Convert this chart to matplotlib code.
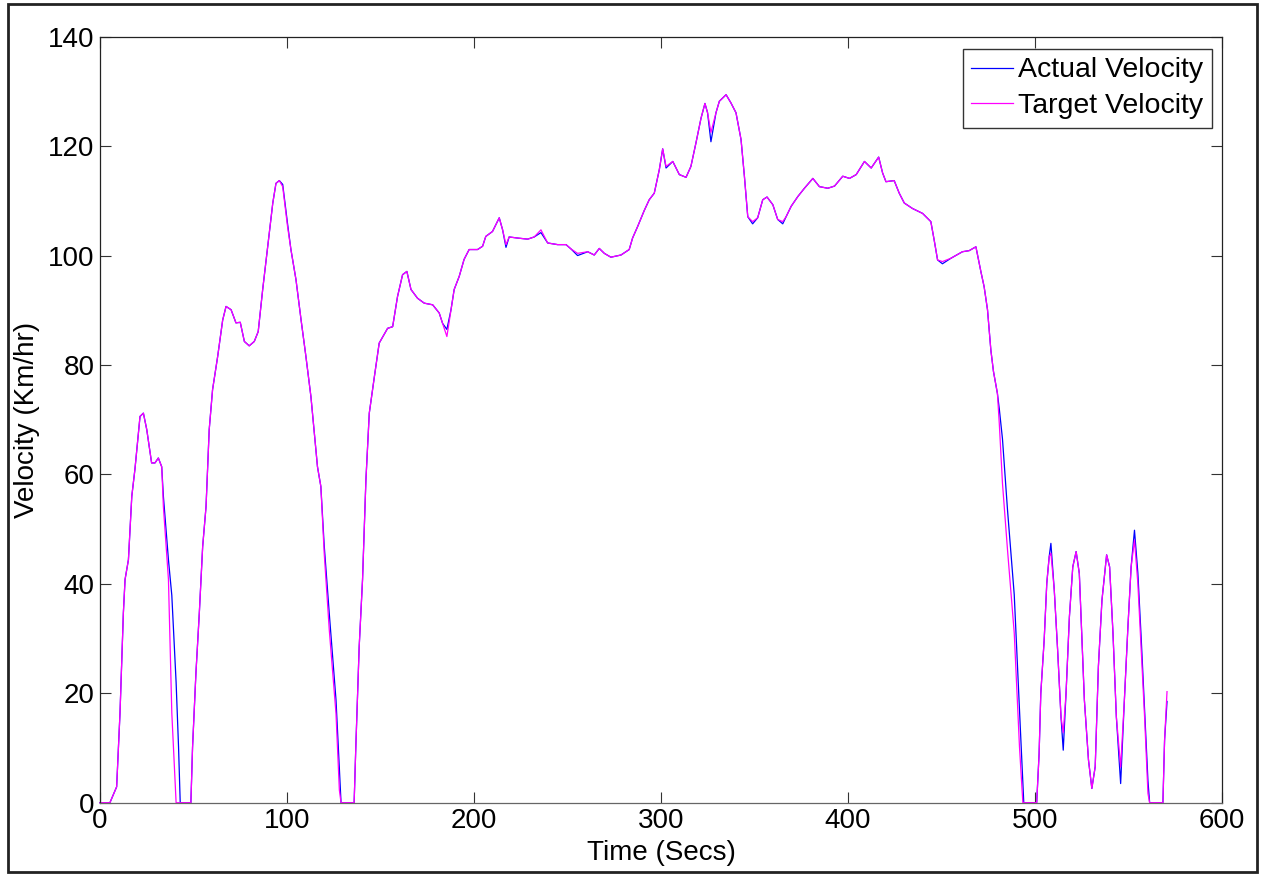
import matplotlib
matplotlib.use("Agg")
import matplotlib.pyplot as plt
from matplotlib.patches import Rectangle

plt.rcParams['font.family'] = ['Liberation Sans', 'DejaVu Sans']

# Time (s)
time_s = [0, 5.3, 8.9, 10.7, 12.5, 13.4, 15.2, 17.0, 18.7, 21.4, 23.2, 25.0, 27.6, 29.4, 31.2, 33.0,
          33.9, 36.6, 38.4, 40.7, 42.0, 42.9, 48.6, 49.5, 51.3, 53.1, 54.9, 56.7, 58.4, 60.2, 62.9,
          65.6, 67.4, 70.1, 72.7, 75.0, 77.2, 79.8, 82.5, 84.6, 87.0, 89.7, 92.4, 94.1, 95.9, 97.7,
          100.3, 102.1, 104.8, 107.5, 110.1, 112.8, 116.3, 118.1, 119.9, 122.6, 126.2, 128.0, 128.9,
          135.9, 136.8, 138.6, 140.4, 142.2, 144.0, 146.7, 149.3, 153.8, 156.5, 159.1, 161.8, 164.1,
          166.3, 169.8, 173.4, 177.9, 181.4, 183.2, 185.5, 187.7, 189.4, 192.1, 194.7, 197.4, 201.9,
          204.6, 206.3, 209.9, 213.5, 215.3, 217.1, 218.8, 223.3, 228.7, 232.2, 235.8, 239.4, 244.7,
          249.2, 251.9, 255.4, 260.8, 264.3, 267.0, 269.7, 273.2, 278.6, 283.0, 284.8, 287.5, 291.0,
          293.7, 296.4, 299.1, 300.9, 302.7, 306.3, 309.8, 313.4, 316.0, 318.7, 321.4, 323.5, 324.9,
          326.7, 329.4, 331.2, 334.8, 337.4, 340.1, 342.8, 344.6, 346.4, 349.0, 351.7, 354.4, 356.7,
          359.8, 362.4, 365.1, 366.9, 369.6, 373.2, 376.7, 381.2, 384.7, 389.2, 392.8, 397.2, 400.8,
          404.4, 408.8, 412.4, 416.4, 418.5, 420.3, 424.7, 427.4, 430.1, 434.5, 439.9, 444.3, 446.1,
          447.9, 450.5, 455.0, 461.2, 464.8, 468.4, 471.1, 472.8, 474.6, 476.4, 477.8, 479.9, 480.9,
          482.6, 485.3, 488.9, 491.7, 493.5, 494.0, 500.9, 502.2, 503.1, 504.9, 506.3, 507.6, 508.5,
          510.3, 512.1, 513.9, 515.1, 516.6, 518.4, 520.2, 522.0, 523.7, 525.0, 526.4, 528.6, 530.4,
          532.2, 533.9, 535.8, 538.3, 539.9, 541.7, 543.5, 545.8, 547.8, 549.7, 551.4, 553.2, 555.0,
          556.8, 558.6, 560.4, 561.3, 568.4, 569.3, 570.6]

target_velocity = [0, 0, 2.9, 16.4, 34.7, 40.8, 44.4, 56, 61, 70.6, 71.2, 68.2, 62.1, 62.1, 63, 61.4,
                   54.1, 40.8, 16.4, 0, 0, 0, 0, 10.2, 23.7, 34.6, 46.8, 54.1, 68.2, 75.5, 81.5,
                   88.2, 90.7, 90.1, 87.7, 87.8, 84.3, 83.5, 84.3, 86.1, 93.8, 101.7, 109.6, 113.2, 113.7, 112.6,
                   105.3, 101.1, 95.6, 88.3, 81.6, 74.2, 61.4, 57.8, 45.6, 31.6, 16.3, 2.3, 0,
                   0, 10.2, 28.5, 40.8, 59, 71.2, 77.8, 84, 86.7, 87, 92.5, 96.5, 97.1,
                   93.8, 92.2, 91.3, 91, 89.5, 87.6, 85.2, 90.1, 93.8, 96.2, 99.3, 101.1, 101.1,
                   101.7, 103.5, 104.4, 106.9, 104.7, 102, 103.4, 103.2, 103, 103.4, 104.7, 102.3, 102,
                   102, 101.2, 100.4, 100.7, 100.1, 101.3, 100.4, 99.7, 100.1, 101.1, 103.2, 105.3, 108.2,
                   110.2, 111.4, 115.7, 119.5, 116.3, 117.2, 114.8, 114.3, 116.3, 120.6, 125.1, 127.8, 126.1,
                   122.5, 126.1, 128.2, 129.4, 127.9, 126.1, 121.2, 114.5, 107.1, 106.2, 106.9, 110.2, 110.7,
                   109.3, 106.6, 106.2, 107.1, 109, 110.8, 112.3, 114.1, 112.6, 112.3, 112.7, 114.5, 114.1,
                   114.8, 117.2, 116, 118, 115.1, 113.5, 113.7, 111.4, 109.6, 108.6, 107.7, 106.2, 102.8,
                   99.2, 98.9, 99.5, 100.7, 100.9, 101.6, 97, 94.3, 90.1, 82.7, 78.8, 74.8, 69.3,
                   58.4, 46.2, 31, 10.2, 0, 0, 0, 9, 20, 29.7, 40.1, 45, 45.6,
                   38.9, 27.9, 15.7, 12.8, 20, 34, 43.1, 45.9, 41.9, 31, 18.8, 7.8, 2.6,
                   6.6, 24.9, 37, 45.3, 43.1, 31, 15.7, 6.5, 18.8, 32.2, 43.1, 48, 40.1,
                   27.9, 15.7, 1.7, 0, 0, 11.5, 20.3]

actual_velocity = [0, 0, 2.9, 16.4, 34.7, 40.8, 44.4, 56, 61, 70.6, 71.2, 68.2, 62.1, 62.1, 63, 61.4,
                   56.0, 44.4, 37.9, 22, 10.2, 0, 0, 10.2, 23.7, 34.6, 46.8, 54.1, 68.2, 75.5, 81.5,
                   88.2, 90.7, 90.1, 87.7, 87.8, 84.3, 83.5, 84.3, 86.1, 93.8, 101.7, 109.6, 113.2, 113.7, 113.0,
                   105.8, 101.1, 95.6, 88.3, 81.6, 74.2, 61.4, 57.8, 47, 34.6, 18.8, 6, 0,
                   0, 10.2, 28.5, 40.8, 59, 71.2, 77.8, 84, 86.7, 87, 92.5, 96.5, 97.1,
                   93.8, 92.2, 91.3, 91, 89.5, 87.6, 86.5, 90.1, 93.8, 96.2, 99.3, 101.1, 101.1,
                   101.7, 103.5, 104.4, 106.9, 104.7, 101.5, 103.4, 103.2, 103, 103.4, 104.2, 102.3, 102,
                   102, 101.2, 100.0, 100.7, 100.1, 101.3, 100.4, 99.7, 100.1, 101.1, 103.2, 105.3, 108.2,
                   110.2, 111.4, 115.7, 119.5, 116.0, 117.2, 114.8, 114.3, 116.3, 120.6, 125.1, 127.8, 126.1,
                   120.8, 126.1, 128.2, 129.4, 127.9, 126.1, 121.2, 114.5, 107.1, 105.8, 106.9, 110.2, 110.7,
                   109.3, 106.6, 105.8, 107.1, 109, 110.8, 112.3, 114.1, 112.6, 112.3, 112.7, 114.5, 114.1,
                   114.8, 117.2, 116, 118, 115.1, 113.5, 113.7, 111.4, 109.6, 108.6, 107.7, 106.2, 102.8,
                   99.2, 98.5, 99.5, 100.7, 100.9, 101.6, 97, 94.3, 90.1, 82.7, 78.8, 74.8, 72,
                   66.5, 53.5, 38, 17, 4, 0, 0, 9, 20, 29.7, 40.1, 45, 47.4,
                   38.9, 27.9, 15.7, 9.6, 20, 34, 43.1, 45.9, 41.9, 31, 18.8, 7.8, 2.6,
                   6.6, 24.9, 37, 45.3, 43.1, 31, 15.7, 3.5, 18.8, 32.2, 43.1, 49.8, 42,
                   30, 17, 4, 0, 0, 11.5, 18.5]

x_ticks = [0, 100, 200, 300, 400, 500, 600]
y_ticks = [0, 20, 40, 60, 80, 100, 120, 140]

fig = plt.figure(figsize=(12.63, 8.75), dpi=100)
ax = fig.add_axes([100 / 1263, 1 - 802.7 / 875, 1122 / 1263, (802.7 - 36.7) / 875])

ax.plot(time_s, actual_velocity, color='#0000ff', lw=0.9, label='Actual Velocity', clip_on=False)
ax.plot(time_s, target_velocity, color='#ff00ff', lw=0.9, label='Target Velocity', clip_on=False)

ax.set_xlim(0, 600)
ax.set_ylim(0, 140)
ax.set_xticks(x_ticks)
ax.set_yticks(y_ticks)
ax.tick_params(direction='in', length=8, width=0.8, top=True, right=True,
               labelsize=20, pad=4, colors='#333333', labelcolor='black')
for s in ax.spines.values():
    s.set_linewidth(0.9)
    s.set_color('#222222')
ax.spines['bottom'].set_color('#666666')

ax.set_xlabel('Time (Secs)', fontsize=20, labelpad=4)
ax.set_ylabel('Velocity (Km/hr)', fontsize=20, labelpad=6)

leg = ax.legend(loc='upper right', fontsize=20.5, frameon=True, fancybox=False,
                handlelength=1.45, handletextpad=0.2, labelspacing=0.35,
                borderpad=0.3, borderaxespad=0.0, bbox_to_anchor=(0.991, 0.984))
leg.get_frame().set_edgecolor('#333333')
leg.get_frame().set_linewidth(1.0)
leg.get_frame().set_alpha(1)

fig.patches.append(Rectangle((8 / 1263, 1 - 872 / 875), (1257 - 8) / 1263, (872 - 4) / 875,
                             transform=fig.transFigure, fill=False, edgecolor='#222222',
                             linewidth=2.0, zorder=10))

fig.savefig('out.png', dpi=100, facecolor='white')
